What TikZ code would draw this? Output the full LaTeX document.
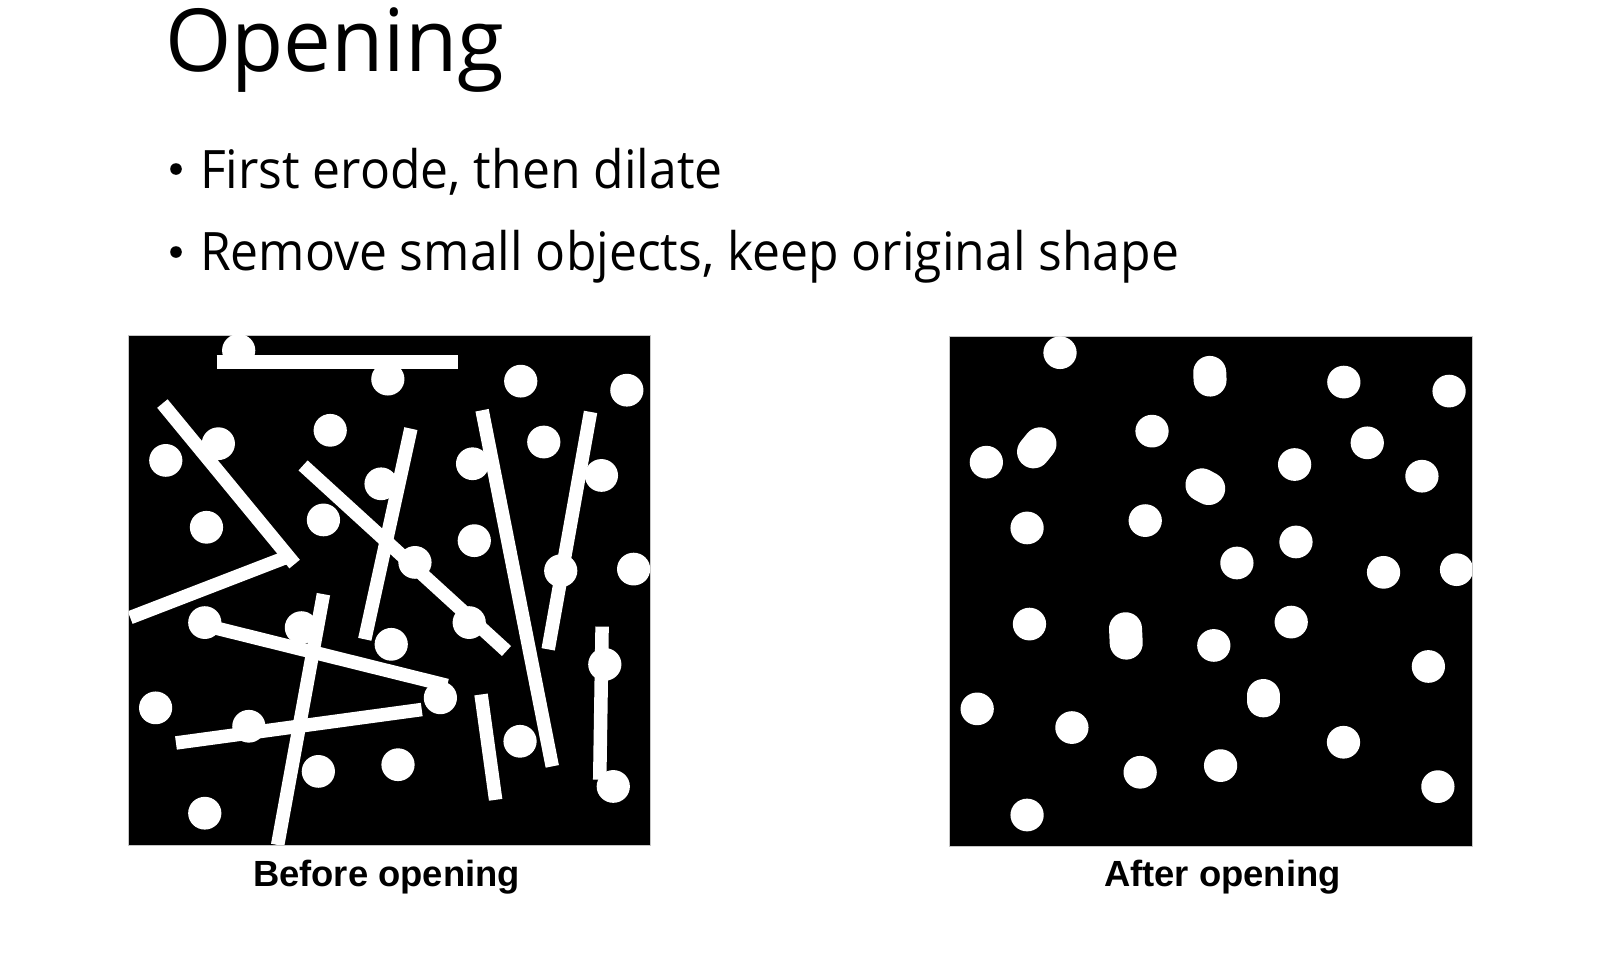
\documentclass[tikz,border=0pt]{standalone}
\usepackage{fontspec}
\setmainfont{Open Sans}
\newfontfamily\capfont{Liberation Sans}
\tikzset{
  blob/.style={fill=white},
  twin/.style={draw=white, line width=33pt, line cap=round},
  rod/.style={draw=white, line width=13.5pt, line cap=butt},
  panel/.style={fill=black, draw=gray!45, line width=1pt},
  txt/.style={inner sep=0pt, outer sep=0pt, anchor=base west},
  captxt/.style={inner sep=0pt, outer sep=0pt, anchor=base, font=\capfont\bfseries\fontsize{36.4}{40}\selectfont}
}
\begin{document}
\begin{tikzpicture}[x=1pt,y=-1pt]
\useasboundingbox (0,0) rectangle (1604,964);
\fill[white] (0,0) rectangle (1604,964);
% title and bullets
\node[txt] (title) at (165,71) {\scalebox{0.98}[1]{\fontsize{87}{100}\selectfont Opening}};
\fill[black] (176,169) circle[radius=5.8];
\node[txt] (b1) at (200,188) {\scalebox{0.94}[1]{\fontsize{53}{60}\selectfont First erode, then dilate}};
\fill[black] (176,252) circle[radius=5.8];
\node[txt] (b2) at (200,270) {\scalebox{0.94}[1]{\fontsize{53}{60}\selectfont Remove small objects, keep original shape}};
% panels
\path[panel] (128.5,335) rectangle (650.5,845);
\path[panel] (949,336) rectangle (1472,846);
% left picture
\begin{scope}[shift={(128.5,335)}, xscale=0.339, yscale=0.3344, shift={(-15,-20)}]
  \clip (15,20) rectangle (1555,1545);
  \draw[rod] (275,100) -- (988,100);
  \draw[rod] (115,225) -- (505,705);
  \draw[rod] (480,685) -- (20,865);
  \draw[rod] (530,410) -- (1130,965);
  \draw[rod] (848,300) -- (712,930);
  \draw[rod] (1058,245) -- (1265,1310);
  \draw[rod] (1378,250) -- (1253,960);
  \draw[rod] (1412,892) -- (1405,1350);
  \draw[rod] (1055,1095) -- (1098,1410);
  \draw[rod] (200,878) -- (955,1068);
  \draw[rod] (590,795) -- (455,1545);
  \draw[rod] (155,1240) -- (880,1140);
  \foreach \x/\y in {340/66, 1172/158, 1485/185, 780/152, 610/305, 280/345, 125/395,
    1240/340, 1030/405, 760/465, 1410/440, 245/595, 590/573, 1035/635, 860/700,
    1290/725, 1505/720, 240/880, 525/895, 790/945, 1020/880, 1420/1005, 935/1105,
    95/1135, 370/1190, 1170/1235, 575/1325, 810/1305, 1445/1370, 240/1450}
    \fill[blob] (\x,\y) circle[radius=49];
\end{scope}
% right picture
\begin{scope}[shift={(949,336)}, xscale=0.3395, yscale=0.3338, shift={(-15,-20)}]
  \clip (15,20) rectangle (1555,1548);
  \foreach \x/\y in {342/70, 1178/158, 1488/185, 613/305,
    125/398, 1247/340, 1033/405, 1408/440,
    245/595, 593/573, 1037/637, 863/700, 1295/728, 1510/720, 252/883,
    795/947, 1023/877, 1427/1010, 98/1137,
    377/1193, 1177/1237, 578/1327, 815/1307, 1455/1370, 245/1455}
    \fill[blob] (\x,\y) circle[radius=49];
  \draw[twin] (783,129) -- (784,152);
  \draw[twin] (264,367) -- (283,343);
  \draw[twin] (760,466) -- (780,477);
  \draw[twin] (535,897) -- (537,940);
  \draw[twin] (940,1097) -- (940,1113);
\end{scope}
% captions
\node[captxt] (capL) at (386.5,886) {Before opening};
\node[captxt] (capR) at (1222.5,886) {After opening};
\end{tikzpicture}
\end{document}
